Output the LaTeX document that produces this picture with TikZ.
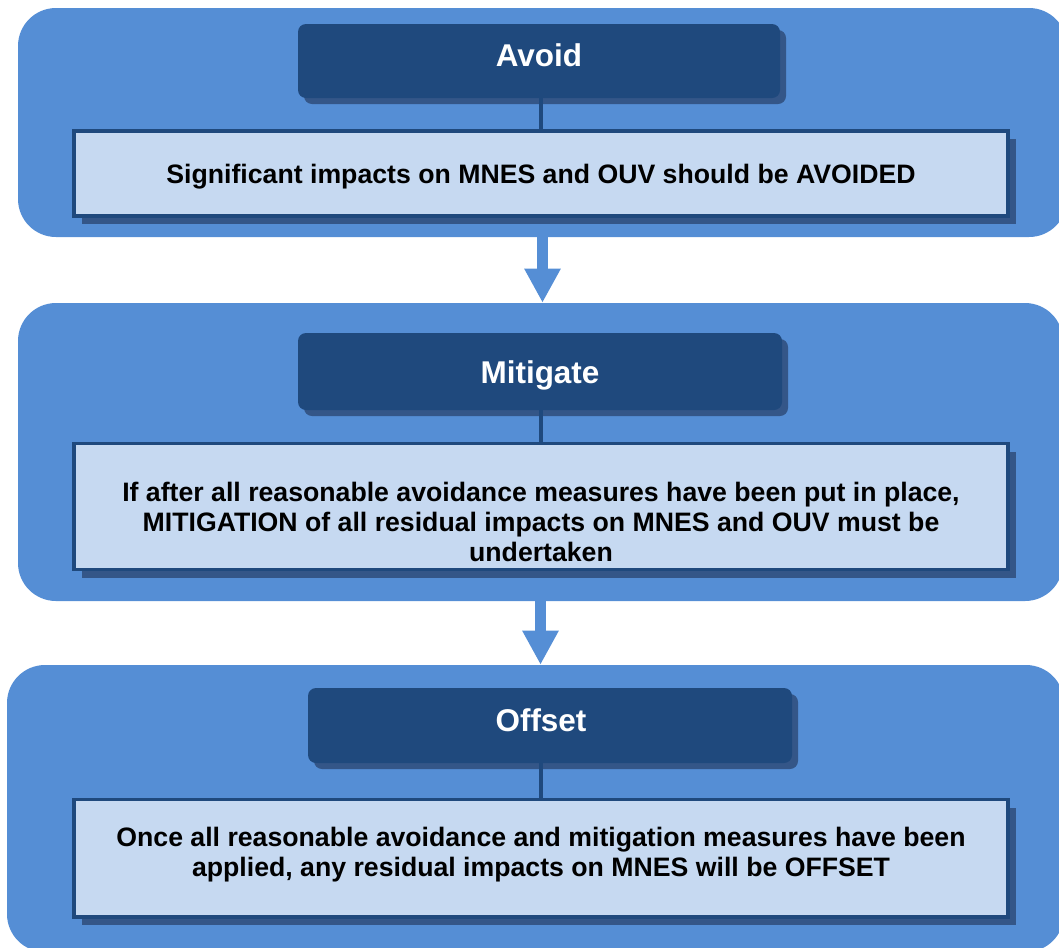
\documentclass[tikz,border=0pt]{standalone}
\usepackage{fontspec}
\setmainfont{Liberation Sans}
\usetikzlibrary{shadows,arrows.meta}
\definecolor{panel}{RGB}{85,142,213}
\definecolor{hdr}{RGB}{31,73,125}
\definecolor{light}{RGB}{198,217,241}
\definecolor{shade}{RGB}{52,86,136}
\tikzset{
  panelbox/.style={fill=panel, draw=none, rounded corners=28.5pt, inner sep=0pt},
  headbox/.style={fill=hdr, draw=none, rounded corners=6pt, inner sep=0pt,
    drop shadow={shadow xshift=4.5pt, shadow yshift=-4.5pt, fill=shade, opacity=1}},
  headtext/.style={text=white, inner sep=0pt, font=\fontsize{23.6}{27}\selectfont\bfseries},
  textbox/.style={fill=light, draw=hdr, line width=2.6pt, inner sep=0pt,
    minimum width=700.5pt,
    drop shadow={shadow xshift=6pt, shadow yshift=-6pt, fill=shade, opacity=1}},
  boxtext/.style={align=center, inner sep=0pt, text=black,
    font=\fontsize{20}{22.5}\selectfont\bfseries},
  flowarrow/.style={draw=panel, line width=8.25pt,
    -{Triangle[width=25.5pt,length=25.5pt]}},
  conn/.style={draw=hdr, line width=3pt}
}
\begin{document}
\begin{tikzpicture}[x=0.75pt,y=-0.75pt]
\useasboundingbox (0,0) rectangle (1059,947);
% panels
\node[panelbox, minimum width=786.75pt, minimum height=171.75pt] (p1) at (542.5,122.5) {};
\node[panelbox, minimum width=783.75pt, minimum height=223.5pt] (p2) at (540.5,452) {};
\node[panelbox, minimum width=792.75pt, minimum height=215.25pt] (p3) at (535.5,808.5) {};
% arrows between panels
\draw[flowarrow] (p1.south) -- (p1.south |- p2.north);
\draw[flowarrow] (p2.south) -- (p2.south |- p3.north);
% text boxes
\node[textbox, minimum height=63.75pt] (t1) at (541,173.5) {};
\node[textbox, minimum height=94.5pt] (t2) at (541,506.5) {};
\node[textbox, minimum height=88.125pt] (t3) at (541,858.25) {};
% headers
\node[headbox, minimum width=361.5pt, minimum height=55.5pt] (h1) at (539,61) {};
\node[headbox, minimum width=363pt, minimum height=57.75pt] (h2) at (540,371.5) {};
\node[headbox, minimum width=363pt, minimum height=56.25pt] (h3) at (550,725.5) {};
% connectors header -> text box
\draw[conn] (h1.south -| t1.north) -- (t1.north);
\draw[conn] (h2.south -| t2.north) -- (t2.north);
\draw[conn] (h3.south -| t3.north) -- (t3.north);
% header labels
\node[headtext] (l1) at (539,55) {Avoid};
\node[headtext] (l2) at (540,375) {Mitigate};
\node[headtext] (l3) at (541,720) {Offset};
% box texts
\node[boxtext] (x1) at (541,177) {Significant impacts on MNES and OUV should be AVOIDED};
\node[boxtext] (x2) at (541,521.5) {If after all reasonable avoidance measures have been put in place,\\MITIGATION of all residual impacts on MNES and OUV must be\\undertaken};
\node[boxtext] (x3) at (541,855) {Once all reasonable avoidance and mitigation measures have been\\applied, any residual impacts on MNES will be OFFSET};
\end{tikzpicture}
\end{document}
